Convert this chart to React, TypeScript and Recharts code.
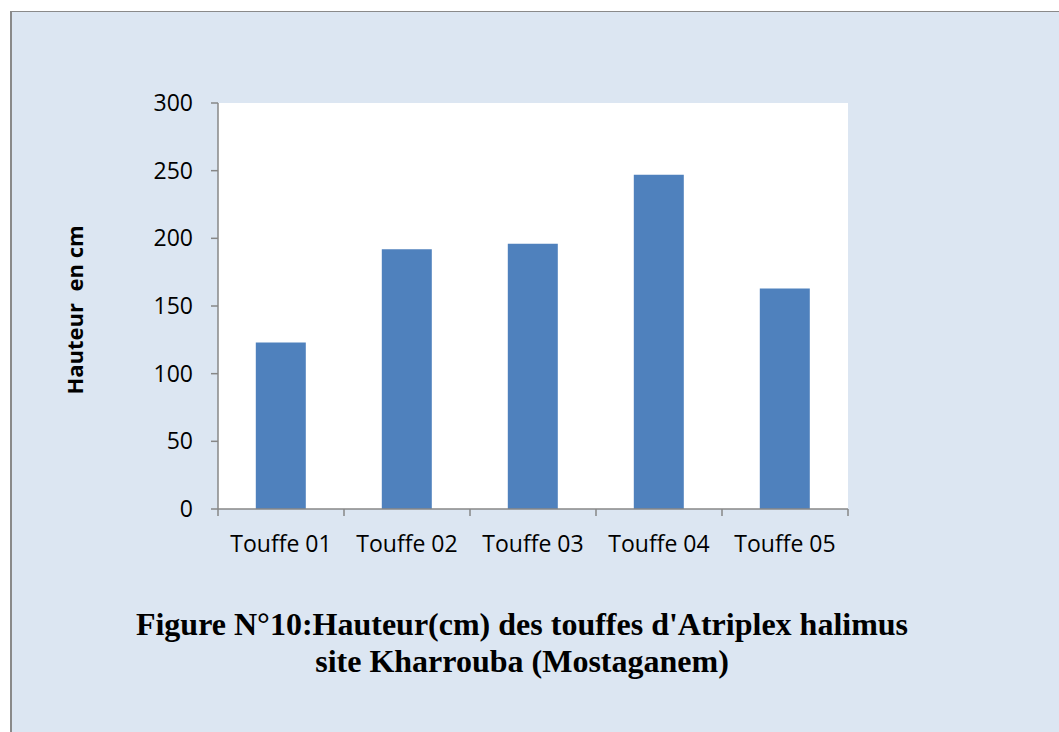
import React from 'react';
import { BarChart, Bar, XAxis, YAxis, CartesianGrid } from 'recharts';

const categories = ['Touffe 01', 'Touffe 02', 'Touffe 03', 'Touffe 04', 'Touffe 05'];
const heights = [123, 192, 196, 247, 163];
const yTicks = [0, 50, 100, 150, 200, 250, 300];

const data = categories.map((c, i) => ({ name: c, value: heights[i] }));

const AXIS = '#878787';
const TICK_FONT = { fontFamily: 'Open Sans', fontSize: 23, fill: '#000' };

const XTick = (props: any) => {
  const { x, y, payload, index, visibleTicksCount } = props;
  const half = payload && payload.offset ? payload.offset : 0;
  const isLast = index === visibleTicksCount - 1;
  return (
    <g>
      <line x1={x - half} x2={x - half} y1={y} y2={y + 7} stroke={AXIS} strokeWidth={1.5} />
      {isLast && <line x1={x + half} x2={x + half} y1={y} y2={y + 7} stroke={AXIS} strokeWidth={1.5} />}
      <text x={x} y={y + 43} textAnchor="middle" style={TICK_FONT as any}>
        {payload.value}
      </text>
    </g>
  );
};

const YLabel = (props: any) => {
  const vb = props.viewBox || {};
  const cx = 74;
  const cy = vb.y + vb.height / 2 + 4;
  return (
    <text
      x={cx}
      y={cy}
      transform={`rotate(-90, ${cx}, ${cy})`}
      textAnchor="middle"
      dominantBaseline="central"
      style={{ fontFamily: 'Open Sans', fontWeight: 700, fontSize: 22, fill: '#000', whiteSpace: 'pre' }}
    >
      {'Hauteur  en cm'}
    </text>
  );
};

export default function App() {
  return (
    <div style={{ position: 'absolute', left: 0, top: 0, width: 1059, height: 732, overflow: 'hidden', background: '#fff' }}>
      <div
        style={{
          position: 'absolute',
          left: 10,
          top: 11,
          width: 1100,
          height: 800,
          background: '#DCE6F2',
          borderLeft: '2px solid #8A8A8A',
          borderTop: '1px solid #8A8A8A',
          boxSizing: 'border-box',
        }}
      />
      <div style={{ position: 'absolute', left: 0, top: 0 }}>
        <BarChart
          width={1059}
          height={732}
          data={data}
          margin={{ top: 103, right: 211, bottom: 163, left: 0 }}
          barCategoryGap="30%"
        >
          <CartesianGrid horizontal={false} vertical={false} fill="#FFFFFF" />
          <XAxis
            dataKey="name"
            height={60}
            axisLine={{ stroke: AXIS, strokeWidth: 1.5 }}
            tickLine={false}
            tickSize={0}
            tickMargin={0}
            tick={<XTick />}
            interval={0}
          />
          <YAxis
            width={218}
            domain={[0, 300]}
            ticks={yTicks}
            interval={0}
            tickSize={7}
            tickMargin={18}
            tick={TICK_FONT}
            axisLine={{ stroke: AXIS, strokeWidth: 1.5 }}
            tickLine={{ stroke: AXIS, strokeWidth: 1.5 }}
            label={<YLabel />}
          />
          <Bar dataKey="value" fill="#4F81BD" isAnimationActive={false} />
        </BarChart>
      </div>
      <div
        style={{
          position: 'absolute',
          left: 0,
          top: 606,
          width: 1044,
          textAlign: 'center',
          fontFamily: '"Liberation Serif", "Times New Roman", serif',
          fontWeight: 700,
          fontSize: 32,
          lineHeight: '37px',
          color: '#000',
        }}
      >
        <div>Figure N°10:Hauteur(cm) des touffes d'Atriplex halimus</div>
        <div>site Kharrouba (Mostaganem)</div>
      </div>
    </div>
  );
}
